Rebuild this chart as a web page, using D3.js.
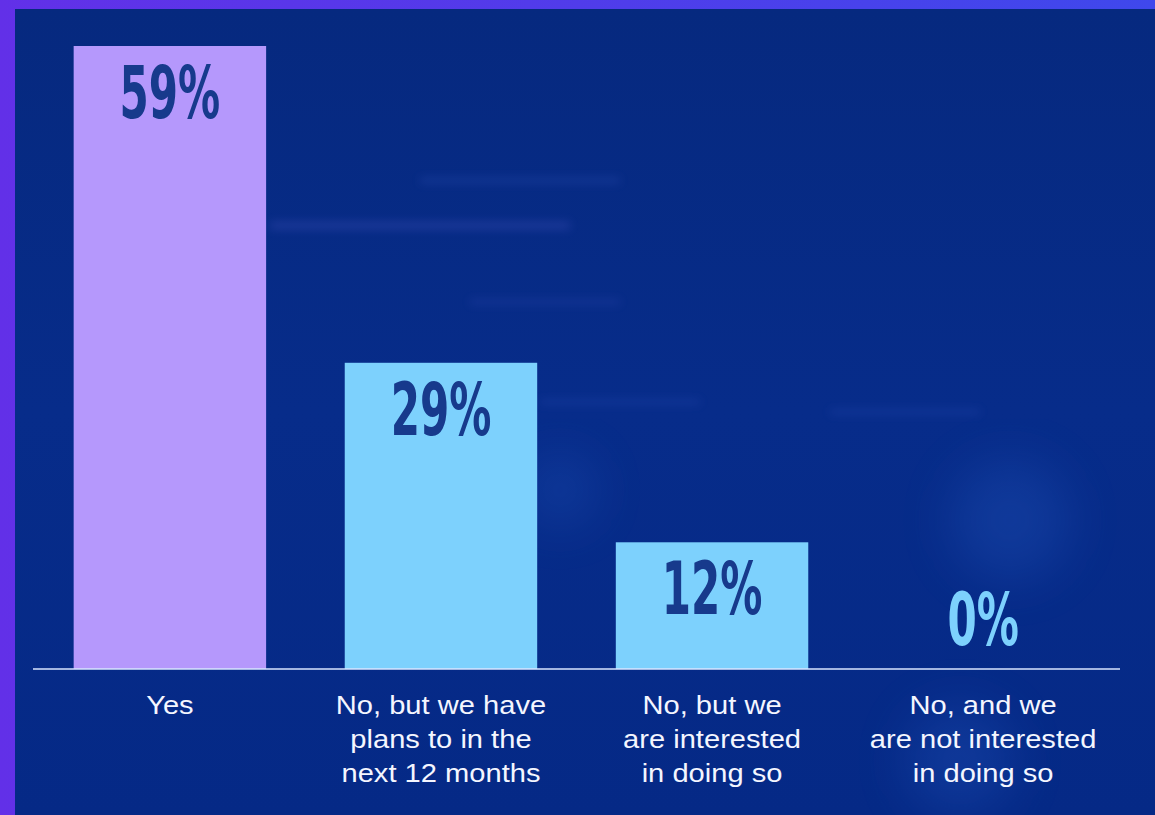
<!DOCTYPE html>
<html>
<head>
<meta charset="utf-8">
<script src="https://cdn.jsdelivr.net/npm/d3@7"></script>
<style>
  html, body { margin: 0; padding: 0; background: #6231e6; }
  svg { display: block; }
</style>
</head>
<body>
<svg id="chart" width="1155" height="815"></svg>
<script>
// values
var categories = ["Yes", "No, but we have plans to in the next 12 months", "No, but we are interested in doing so", "No, and we are not interested in doing so"];
var labelLines = [["Yes"], ["No, but we have", "plans to in the", "next 12 months"], ["No, but we", "are interested", "in doing so"], ["No, and we", "are not interested", "in doing so"]];
var values = [59, 29, 12, 0];
var barColors = ["#b598fc", "#7dd1fd", "#7dd1fd", "#7dd1fd"];

var svg = d3.select("#chart");
var defs = svg.append("defs");

// purple frame + dark blue panel
var frame = defs.append("linearGradient").attr("id", "frame").attr("x1", 0).attr("y1", 0).attr("x2", 1).attr("y2", 0);
frame.append("stop").attr("offset", "0%").attr("stop-color", "#6230e8");
frame.append("stop").attr("offset", "100%").attr("stop-color", "#3f48ec");
svg.append("rect").attr("x", 0).attr("y", 0).attr("width", 1155).attr("height", 815).style("fill", "url(#frame)");

var bg = defs.append("linearGradient").attr("id", "bg").attr("x1", 0).attr("y1", 0).attr("x2", 0).attr("y2", 1);
bg.append("stop").attr("offset", "0%").attr("stop-color", "#06297f");
bg.append("stop").attr("offset", "50%").attr("stop-color", "#072c8a");
bg.append("stop").attr("offset", "100%").attr("stop-color", "#052986");
svg.append("rect").attr("x", 15).attr("y", 9).attr("width", 1140).attr("height", 806).style("fill", "url(#bg)");

// faint texture streaks
defs.append("filter").attr("id", "blur").append("feGaussianBlur").attr("stdDeviation", 5);
defs.append("filter").attr("id", "blur2").append("feGaussianBlur").attr("stdDeviation", 25);
var streaks = [[270, 222, 300, 7, "#5a5fd0"], [420, 178, 200, 5, "#3f5fc8"], [540, 400, 160, 4, "#3a5cc8"], [830, 410, 150, 4, "#3a5cc8"], [470, 300, 150, 4, "#4a58c8"]];
svg.append("g").attr("filter", "url(#blur)").attr("opacity", 0.3)
  .selectAll("rect").data(streaks).enter().append("rect")
  .attr("x", function(d){ return d[0]; }).attr("y", function(d){ return d[1]; })
  .attr("width", function(d){ return d[2]; }).attr("height", function(d){ return d[3]; })
  .style("fill", function(d){ return d[4]; });
var glows = [[560, 490, 35], [1010, 520, 60], [960, 760, 55]];
svg.append("g").attr("filter", "url(#blur2)").attr("opacity", 0.25)
  .selectAll("circle").data(glows).enter().append("circle")
  .attr("cx", function(d){ return d[0]; }).attr("cy", function(d){ return d[1]; }).attr("r", function(d){ return d[2]; })
  .style("fill", "#2a62cc");

var x = d3.scaleBand().domain(categories).range([33, 1120]).paddingInner(0.29).paddingOuter(0.15);
var y = d3.scaleLinear().domain([0, d3.max(values)]).range([669, 46]);

var data = categories.map(function(c, i){ return {cat: c, v: values[i], lines: labelLines[i], color: barColors[i]}; });

svg.append("g").selectAll("rect").data(data).enter().append("rect")
  .attr("x", function(d){ return x(d.cat); })
  .attr("y", function(d){ return y(d.v); })
  .attr("width", x.bandwidth())
  .attr("height", function(d){ return y(0) - y(d.v); })
  .style("fill", function(d){ return d.color; });

// baseline
svg.append("line").attr("x1", x.range()[0]).attr("x2", x.range()[1]).attr("y1", y(0)).attr("y2", y(0))
  .style("stroke", "#d8e6ff").style("stroke-width", 1.5);

// value labels (condensed bold)
svg.append("g").selectAll("text").data(data).enter().append("text")
  .attr("transform", function(d){
    var ty = d.v > 0 ? y(d.v) + 72 : y(0) - 24;
    return "translate(" + (x(d.cat) + x.bandwidth() / 2) + "," + ty + ") scale(0.64,1)";
  })
  .attr("text-anchor", "middle")
  .style("font-family", "'DejaVu Sans Condensed', 'DejaVu Sans', sans-serif")
  .style("font-weight", "700")
  .style("font-size", "73px")
  .style("fill", function(d){ return d.v > 0 ? "#173a8c" : "#7dd1fd"; })
  .text(function(d){ return d.v + "%"; });

// category labels
var cat = svg.append("g").selectAll("g").data(data).enter().append("g")
  .attr("transform", function(d){ return "translate(" + (x(d.cat) + x.bandwidth() / 2) + ",714) scale(1.12,1)"; });
cat.selectAll("text").data(function(d){ return d.lines; }).enter().append("text")
  .attr("x", 0).attr("y", function(d, i){ return i * 34; })
  .attr("text-anchor", "middle")
  .style("font-family", "'Liberation Sans', Arial, sans-serif")
  .style("font-size", "26px")
  .style("fill", "#f4f6ff")
  .text(function(d){ return d; });
</script>
</body>
</html>
